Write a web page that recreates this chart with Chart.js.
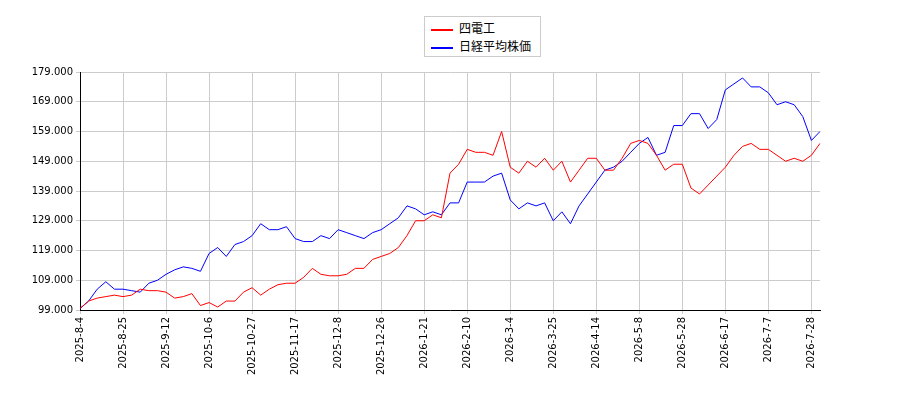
<!DOCTYPE html>
<html><head><meta charset="utf-8">
<script src="https://cdn.jsdelivr.net/npm/chart.js@4/dist/chart.umd.min.js"></script>
<style>body{margin:0;background:#fff}#w{position:relative;width:900px;height:400px}
#lg{position:absolute;left:424px;top:16px;width:117px;height:41px;border:1px solid #ccc;box-sizing:border-box;font:12px "Noto Sans CJK JP",sans-serif;padding:2px 6px;line-height:18px;background:#fff}
#lg span{display:inline-block;width:22px;height:2px;vertical-align:middle;margin-right:6px}</style>
</head><body><div id="w"><canvas id="c" width="900" height="400"></canvas>
<div id="lg"><div><span style="background:#f00"></span>四電工</div><div><span style="background:#00f"></span>日経平均株価</div></div></div>
<script>
const tickLabels=["2025-8-4","2025-8-25","2025-9-12","2025-10-6","2025-10-27","2025-11-17","2025-12-8","2025-12-26","2026-1-21","2026-2-10","2026-3-4","2026-3-25","2026-4-14","2026-5-8","2026-5-28","2026-6-17","2026-7-7","2026-7-28"];
const yonden=[99.5,102,103,103.5,104,103.5,104,106,105.5,105.5,105,103,103.5,104.5,100.5,101.5,100,102,102,105,106.5,104,106,107.5,108,108,110,113,111,110.5,110.5,111,113,113,116,117,118,120,124,129,129,131,130,145,148,153,152,152,151,159,147,145,149,147,150,146,149,142,146,150,150,146,146,150,155,156,155,151,146,148,148,140,138,141,144,147,151,154,155,153,153,151,149,150,149,151,155];
const nikkei=[99.5,102,106,108.5,106,106,105.5,105,108,109,111,112.5,113.5,113,112,118,120,117,121,122,124,128,126,126,127,123,122,122,124,123,126,125,124,123,125,126,128,130,134,133,131,132,131,135,135,142,142,142,144,145,136,133,135,134,135,129,132,128,134,138,142,146,147,149,152,155,157,151,152,161,161,165,165,160,163,173,175,177,174,174,172,168,169,168,164,156,159];
const labels=yonden.map((v,i)=>i%5===0&&tickLabels[i/5]?tickLabels[i/5]:'');
new Chart(document.getElementById('c'),{type:'line',
data:{labels,datasets:[
{data:yonden,borderColor:'#f00',borderWidth:1,pointRadius:0,tension:0},
{data:nikkei,borderColor:'#00f',borderWidth:1,pointRadius:0,tension:0}]},
options:{responsive:false,animation:false,layout:{padding:{top:72,right:80,left:0,bottom:0}},
plugins:{legend:{display:false},tooltip:{enabled:false}},
scales:{x:{offset:false,grid:{color:c=>c.index%5===0?'#ccc':'rgba(0,0,0,0)',tickLength:4},border:{color:'#000'},
ticks:{autoSkip:false,maxRotation:90,minRotation:90,color:'#000',font:{size:10,family:'DejaVu Sans'},callback:function(v,i){return labels[i]}},
afterFit:s=>{s.height=90}},
y:{min:99,max:179,grid:{color:'#ccc',tickLength:4},border:{color:'#000'},
ticks:{stepSize:10,color:'#000',font:{size:10,family:'DejaVu Sans'},callback:v=>v.toFixed(3)},
afterFit:s=>{s.width=80}}}}});
</script></body></html>
